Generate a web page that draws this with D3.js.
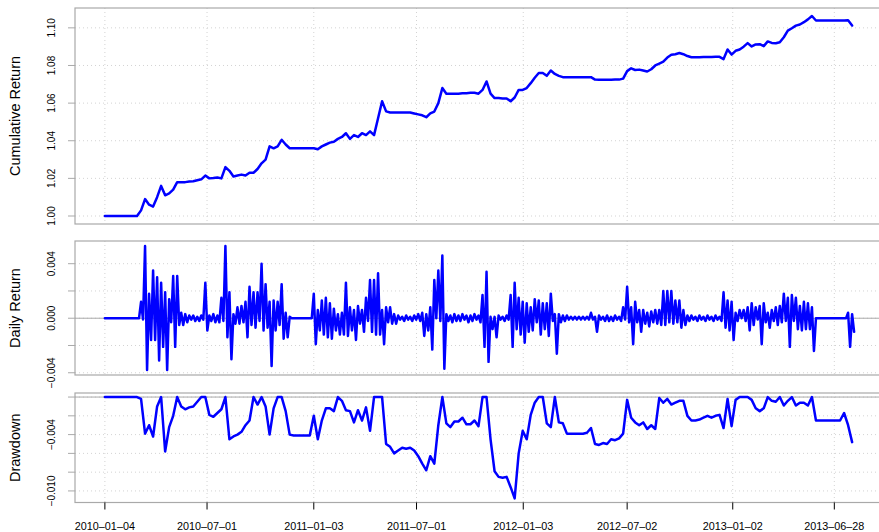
<!DOCTYPE html>
<html>
<head>
<meta charset="utf-8">
<script src="https://cdn.jsdelivr.net/npm/d3@7"></script>
<style>
  body { margin: 0; background: #fff; }
  text { font-family: "Liberation Sans", Arial, Helvetica, sans-serif; }
</style>
</head>
<body>
<svg id="chart" width="879" height="532"></svg>
<script>
// weekly observations, first week starting on this date
const weekStart = "2010-01-04";
const tickDates = ["2010-01-04", "2010-07-01", "2011-01-03", "2011-07-01",
                   "2012-01-03", "2012-07-02", "2013-01-02", "2013-06-28"];

const cumulativeReturn = [
  1.000,1.000,1.000,1.000,1.000,1.000,1.000,1.000,1.000,1.003,
  1.009,1.006,1.005,1.010,1.016,1.011,1.012,1.014,1.018,1.018,
  1.018,1.0183,1.0185,1.019,1.0195,1.0215,1.020,1.0202,1.0205,1.020,
  1.026,1.024,1.021,1.0215,1.022,1.0215,1.023,1.023,1.025,1.028,
  1.030,1.037,1.036,1.037,1.0405,1.038,1.036,1.036,1.036,1.036,
  1.036,1.036,1.036,1.0355,1.037,1.038,1.039,1.0395,1.041,1.042,
  1.044,1.041,1.043,1.042,1.044,1.043,1.045,1.043,1.052,1.061,
  1.0556,1.055,1.055,1.055,1.055,1.055,1.055,1.0545,1.054,1.0535,
  1.0525,1.0545,1.0555,1.060,1.068,1.065,1.065,1.065,1.065,1.0652,
  1.0653,1.0655,1.0655,1.065,1.067,1.0715,1.065,1.0627,1.0627,1.0625,
  1.0625,1.061,1.063,1.067,1.067,1.068,1.0706,1.0735,1.076,1.076,
  1.0745,1.0773,1.0755,1.0745,1.0738,1.0737,1.0737,1.0737,1.0737,1.0737,
  1.0737,1.0738,1.0725,1.0724,1.0724,1.0724,1.0724,1.0725,1.0725,1.073,
  1.077,1.0785,1.0776,1.0778,1.0773,1.0768,1.078,1.080,1.081,1.082,
  1.0842,1.0857,1.086,1.0866,1.086,1.085,1.0844,1.0844,1.0844,1.0845,
  1.0845,1.0845,1.0846,1.0846,1.0834,1.0885,1.0858,1.0878,1.0885,1.090,
  1.0919,1.0901,1.0912,1.0913,1.0903,1.0928,1.092,1.0918,1.0923,1.095,
  1.0985,1.0998,1.1012,1.1018,1.103,1.1045,1.1063,1.1039,1.1039,1.1039,
  1.1039,1.1039,1.1039,1.1039,1.1039,1.104,1.1012
];

// largest and smallest daily return seen in each week
const dailyHigh = [
  0,0,0,0,0,0,0,0,0,.0012,
  .0053,.0018,.0035,.003,.0026,.0019,.0014,.0031,.0031,.0004,
  .0003,.0002,.0002,.0001,.0002,.0026,.0002,.0003,.0002,.0015,
  .0053,.0019,.0003,.0008,.0009,.0012,.0023,.0019,.0019,.004,
  .0025,.0012,.0013,.0012,.0025,.0004,.0001,0,0,0,
  0,0,.0018,.0006,.0013,.0015,.0011,.0007,.0003,.0004,
  .0026,.0008,.0006,.0009,.0006,.0015,.0028,.0028,.0033,.0006,
  .0008,.0008,.0003,.0002,.0001,.0002,.0001,.0002,.0003,.0004,
  .0003,.0008,.0028,.0035,.0046,.0003,.0002,.0003,.0002,.0003,
  .0002,.0002,.0003,.0002,.0017,.0034,.0001,.0001,.0002,.0001,
  .0002,.0017,.0026,.0015,.0012,.0011,.0008,.0014,.0013,.0011,
  .0011,.0018,.0003,.0003,.0002,.0002,.0001,.0001,.0001,.0001,
  .0001,.0004,.0001,.0002,.0001,.0002,.0001,.0002,.0001,.0008,
  .0023,.0008,.0012,.0006,.0006,.0004,.0005,.0006,.0006,.002,
  .002,.002,.0013,.0013,.0006,.0002,.0002,.0001,.0002,.0001,
  .0002,.0001,.0002,.0001,.0019,.0013,.0012,.0004,.0006,.0006,
  .0008,.0011,.0008,.0009,.0011,.0004,.0006,.0008,.0009,.0018,
  .0015,.0017,.0015,.0009,.0012,.0011,.0008,0,0,0,
  0,0,0,0,0,.0004,.0003
];
const dailyLow = [
  0,0,0,0,0,0,0,0,0,-.0001,
  -.0038,-.0016,-.0016,-.0031,-.0021,-.0038,-.0003,-.0021,-.0005,-.0005,
  -.0003,-.0001,-.0002,-.0002,-.0001,-.0009,-.0002,-.0003,-.0003,-.0002,
  -.0014,-.003,-.0004,-.0004,-.0003,-.0014,-.0005,-.0007,-.0002,-.0009,
  -.0007,-.0035,-.0009,-.0005,-.0015,-.0014,0,0,0,0,
  0,0,-.0019,-.0009,-.0012,-.0014,-.0015,-.0009,-.0012,-.0012,
  -.0013,-.0009,-.0016,-.0004,-.001,-.0002,-.001,-.0012,-.0012,-.0019,
  -.0003,-.0004,-.0004,-.0001,-.0002,-.0001,-.0002,-.0001,-.0002,-.0013,
  -.0009,-.0023,0,-.0002,-.0037,-.0002,-.0003,-.0002,-.0002,-.0001,
  -.0003,-.0002,-.0001,-.0003,-.0021,-.0032,-.0008,-.0014,-.0001,-.0002,
  -.0001,-.0021,-.0008,-.0012,-.0018,-.001,-.0009,-.0003,-.0012,-.0008,
  -.0013,-.0002,-.0026,-.0003,-.0002,-.0001,-.0001,-.0001,-.0001,-.0001,
  -.0001,-.0001,-.001,-.0001,-.0002,-.0002,-.0002,-.0001,-.0002,-.0001,
  -.0003,-.0019,-.0003,-.001,-.0004,-.0006,-.0003,-.0004,-.0005,-.0005,
  -.0003,-.0004,-.0003,-.0007,-.0005,-.0002,-.0001,-.0002,-.0001,-.0002,
  -.0001,-.0002,-.0001,-.0002,-.0007,-.0009,-.0016,-.0002,0,-.0002,
  -.0009,-.0005,-.0001,-.0019,-.0003,-.0007,-.0002,-.0005,-.0003,-.0002,
  -.0021,-.0002,-.0008,-.0009,-.0008,-.0008,-.0024,0,0,0,
  0,0,0,0,0,-.0021,-.001
];

const drawdown = [
  0,0,0,0,0,0,0,0,0,-0.0002,
  -0.0039,-0.003,-0.0042,-0.001,0,-0.0058,-0.0032,-0.002,0,-0.001,
  -0.0013,-0.0011,-0.001,-0.0005,0,0,-0.0019,-0.0021,-0.0017,-0.0013,
  0,-0.0045,-0.0042,-0.004,-0.0037,-0.003,-0.0025,0,-0.0008,0,
  -0.001,-0.004,-0.0012,0,0,-0.0015,-0.004,-0.0041,-0.0041,-0.0041,
  -0.0041,-0.0041,-0.002,-0.0045,-0.0025,-0.0012,-0.0012,-0.0015,0,-0.0004,
  -0.0014,-0.0015,-0.0027,-0.0014,-0.0025,-0.0011,-0.0036,0,0,0,
  -0.005,-0.0053,-0.006,-0.0057,-0.0054,-0.0055,-0.0054,-0.0057,-0.0063,-0.0071,
  -0.0078,-0.0063,-0.0071,-0.003,0,-0.0028,-0.0032,-0.0026,-0.0026,-0.0022,
  -0.0029,-0.0029,-0.0025,-0.0031,0,0,-0.0045,-0.0079,-0.0085,-0.0086,
  -0.0085,-0.0096,-0.0108,-0.006,-0.0036,-0.0045,-0.0019,-0.0006,0,0,
  -0.0028,-0.0032,0,-0.0027,-0.0028,-0.0039,-0.0039,-0.0039,-0.0039,-0.0039,
  -0.0038,-0.0033,-0.005,-0.0051,-0.0049,-0.005,-0.0045,-0.0046,-0.0044,-0.0039,
  -0.0003,-0.0022,-0.0027,-0.003,-0.0027,-0.0034,-0.003,-0.0034,-0.0001,-0.0006,
  -0.0002,-0.0008,-0.0006,-0.0004,-0.0004,-0.002,-0.0025,-0.0025,-0.0024,-0.0022,
  -0.002,-0.0022,-0.002,-0.0019,-0.0033,-0.0002,-0.0031,-0.0003,0,0,
  0,-0.0003,-0.0012,-0.0015,-0.0012,0,-0.0004,-0.0005,0,-0.0009,
  -0.0004,0,-0.0009,-0.0006,-0.0006,-0.0009,0,-0.0025,-0.0025,-0.0025,
  -0.0025,-0.0025,-0.0025,-0.0025,-0.0017,-0.003,-0.0048
];

const cumTicks = [1.00, 1.02, 1.04, 1.06, 1.08, 1.10];
const dailyTicks = [-0.004, -0.002, 0, 0.002, 0.004];
const dailyLabels = [-0.004, 0, 0.004];
const ddTicks = [-0.010, -0.008, -0.006, -0.004, -0.002, 0];
const ddLabels = [-0.010, -0.004];

const svg = d3.select("#chart");
const left = 75, right = 882;
const boxGrey = "#a9a9a9", gridGrey = "#d3d3d3";
const DAY = 864e5;
const parse = d3.utcParse("%Y-%m-%d");
const t0 = parse(weekStart);
const weekDates = cumulativeReturn.map((_, i) => new Date(+t0 + i * 7 * DAY));
const ticks = tickDates.map(parse);

// R style: 4% padding on each side of the data range
function padded(ext) {
  const a = +ext[0], b = +ext[1];
  const d = (b - a) * 0.04;
  return [a - d, b + d];
}

const x = d3.scaleUtc()
  .domain(padded([weekDates[0], weekDates[weekDates.length - 1]]))
  .range([left, right]);

const line = d3.line().x(d => x(d.date)).y(d => d.y);

function panel(cfg) {
  const y = d3.scaleLinear()
    .domain(padded(d3.extent(cfg.points, d => d.value)))
    .range([cfg.bottom, cfg.top]);
  const g = svg.append("g");

  g.selectAll(".vgrid").data(ticks).join("line").attr("class", "vgrid")
    .attr("x1", d => x(d)).attr("x2", d => x(d))
    .attr("y1", cfg.top).attr("y2", cfg.bottom)
    .attr("stroke", gridGrey).attr("stroke-dasharray", "1,3");

  g.selectAll(".hgrid").data(cfg.ticks).join("line").attr("class", "hgrid")
    .attr("x1", left).attr("x2", right)
    .attr("y1", d => y(d)).attr("y2", d => y(d))
    .attr("stroke", gridGrey).attr("stroke-dasharray", "1,3");

  if (cfg.zeroLine) {
    g.append("line")
      .attr("x1", left).attr("x2", right)
      .attr("y1", y(0)).attr("y2", y(0))
      .attr("stroke", boxGrey).attr("stroke-width", 1);
  }

  g.append("rect")
    .attr("x", left).attr("y", cfg.top)
    .attr("width", right - left).attr("height", cfg.bottom - cfg.top)
    .attr("fill", "none").attr("stroke", boxGrey).attr("stroke-width", 1.2);

  g.selectAll(".ytick").data(cfg.ticks).join("line").attr("class", "ytick")
    .attr("x1", left - 7).attr("x2", left)
    .attr("y1", d => y(d)).attr("y2", d => y(d))
    .attr("stroke", boxGrey);

  g.selectAll(".ylab").data(cfg.labels).join("text").attr("class", "ylab")
    .attr("transform", d => `translate(${left - 20},${y(d)}) rotate(-90)`)
    .attr("text-anchor", "middle")
    .attr("font-size", 10)
    .attr("fill", "#000")
    .text(d => cfg.format(d));

  g.append("text")
    .attr("transform", `translate(20,${(cfg.top + cfg.bottom) / 2}) rotate(-90)`)
    .attr("text-anchor", "middle")
    .attr("font-size", 14.5)
    .attr("fill", "#000")
    .text(cfg.title);

  g.append("path")
    .datum(cfg.points.map(d => ({date: d.date, y: y(d.value)})))
    .attr("d", line)
    .attr("fill", "none")
    .attr("stroke", "#0000ff")
    .attr("stroke-width", 2.5)
    .attr("stroke-linejoin", "round")
    .attr("stroke-linecap", "round");
}

const cumPoints = cumulativeReturn.map((v, i) => ({date: weekDates[i], value: v}));
const dailyPoints = [];
dailyHigh.forEach((v, i) => {
  dailyPoints.push({date: weekDates[i], value: v});
  dailyPoints.push({date: new Date(+weekDates[i] + 3.5 * DAY), value: dailyLow[i]});
});
const ddPoints = drawdown.map((v, i) => ({date: weekDates[i], value: v}));

panel({top: 8, bottom: 224, points: cumPoints, ticks: cumTicks, labels: cumTicks,
       format: d3.format(".2f"), title: "Cumulative Return"});
panel({top: 241, bottom: 375, points: dailyPoints, ticks: dailyTicks, labels: dailyLabels,
       format: d3.format(".3f"), title: "Daily Return", zeroLine: true});
panel({top: 393, bottom: 502.5, points: ddPoints, ticks: ddTicks, labels: ddLabels,
       format: d3.format(".3f"), title: "Drawdown", zeroLine: true});

// shared date axis under the last panel
const fmt = d3.utcFormat("%Y-%m-%d");
svg.append("g").selectAll("line").data(ticks).join("line")
  .attr("x1", d => x(d)).attr("x2", d => x(d))
  .attr("y1", 502.5).attr("y2", 509.5)
  .attr("stroke", "#000");
svg.append("g").selectAll("text").data(ticks).join("text")
  .attr("x", d => x(d)).attr("y", 530)
  .attr("text-anchor", "middle")
  .attr("font-size", 10.8)
  .attr("fill", "#000")
  .text(d => fmt(d).replace(/-/g, "\u2013"));
</script>
</body>
</html>
